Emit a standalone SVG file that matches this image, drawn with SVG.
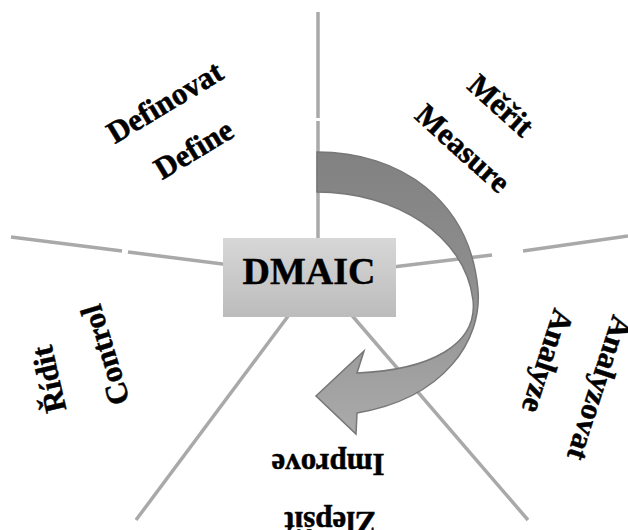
<svg xmlns="http://www.w3.org/2000/svg" width="628" height="530" viewBox="0 0 628 530">
<style>
.spoke{stroke:#a9a9a9;stroke-width:3.5;fill:none}
.lbl{font-family:"Liberation Serif","Times New Roman",serif;font-weight:bold;font-size:31px;fill:#000;stroke:#000;stroke-width:0.5;text-anchor:middle}
.title{font-family:"Liberation Serif","Times New Roman",serif;font-weight:bold;font-size:38px;fill:#000;stroke:#000;stroke-width:0.4;text-anchor:middle}
</style>
<defs>
<linearGradient id="boxFill" x1="0" y1="0" x2="0" y2="1">
<stop offset="0" stop-color="#d7d7d7"/>
<stop offset="1" stop-color="#bcbcbc"/>
</linearGradient>
<linearGradient id="arrowFill" gradientUnits="userSpaceOnUse" x1="0" y1="150" x2="0" y2="435">
<stop offset="0" stop-color="#818181"/>
<stop offset="0.45" stop-color="#8e8e8e"/>
<stop offset="1" stop-color="#ababab"/>
</linearGradient>
</defs>
<rect width="628" height="530" fill="#fff"/>
<g id="spokes">
<line class="spoke" x1="318" y1="12" x2="318" y2="118"/>
<line class="spoke" x1="318" y1="121" x2="318" y2="276"/>
<line class="spoke" x1="11" y1="237" x2="122" y2="251"/>
<line class="spoke" x1="128" y1="252" x2="318" y2="276"/>
<line class="spoke" x1="628" y1="236" x2="523" y2="251"/>
<line class="spoke" x1="492" y1="255" x2="318" y2="276"/>
<line class="spoke" x1="318" y1="276" x2="136" y2="520"/>
<line class="spoke" x1="318" y1="276" x2="528" y2="520"/>
</g>
<g id="dmaic">
<rect x="223" y="238" width="173" height="79" fill="url(#boxFill)"/>
<text class="title" x="309" y="284">DMAIC</text>
</g>
<g id="connectors">
<path d="M317,152 C400,152 470,200 478,290 C482,340 445,398 357,413 L356,434 L316,396 L364,351 L357,373 C430,370 478,345 473,300 C465,235 395,192 317,192 Z" fill="url(#arrowFill)" stroke="#777" stroke-width="1.5" stroke-linejoin="miter"/>
</g>
<g id="define">
<text class="lbl" transform="translate(170,111) rotate(-31)">Definovat</text>
<text class="lbl" transform="translate(199,158) rotate(-31)">Define</text>
</g>
<g id="measure">
<text class="lbl" transform="translate(494,113) rotate(42)">Měřit</text>
<text class="lbl" transform="translate(456,156) rotate(42)">Measure</text>
</g>
<g id="analyze">
<text class="lbl" transform="translate(590,385) rotate(108)">Analyzovat</text>
<text class="lbl" transform="translate(538,358) rotate(108)">Analyze</text>
</g>
<g id="improve">
<text class="lbl" transform="translate(328,454) rotate(180)">Improve</text>
<text class="lbl" transform="translate(330,512) rotate(180)">Zlepšit</text>
</g>
<g id="control">
<text class="lbl" transform="translate(59,377) rotate(-103)">Řídit</text>
<text class="lbl" transform="translate(115,352) rotate(-107)">Control</text>
</g>
</svg>
